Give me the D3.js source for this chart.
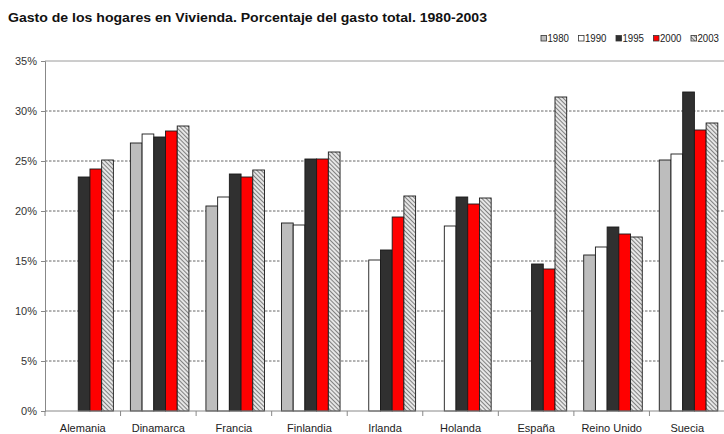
<!DOCTYPE html>
<html>
<head>
<meta charset="utf-8">
<script src="https://cdn.jsdelivr.net/npm/d3@7"></script>
<style>
  html, body { margin: 0; padding: 0; background: #fff; }
  svg { display: block; font-family: Arial, "Liberation Sans", sans-serif; }
</style>
</head>
<body>
<svg id="chart" width="724" height="434"></svg>
<script>
// Housing share of household spending, % of total spending
const countries = ["Alemania", "Dinamarca", "Francia", "Finlandia", "Irlanda", "Holanda", "España", "Reino Unido", "Suecia"];
const years = ["1980", "1990", "1995", "2000", "2003"];
const v1980 = [null, 26.8, 20.5, 18.8, null, null, null, 15.6, 25.1];
const v1990 = [null, 27.7, 21.4, 18.6, 15.1, 18.5, null, 16.4, 25.7];
const v1995 = [23.4, 27.4, 23.7, 25.2, 16.1, 21.4, 14.7, 18.4, 31.9];
const v2000 = [24.2, 28.0, 23.4, 25.2, 19.4, 20.7, 14.2, 17.7, 28.1];
const v2003 = [25.1, 28.5, 24.1, 25.9, 21.5, 21.3, 31.4, 17.4, 28.8];
const yTicks = [0, 5, 10, 15, 20, 25, 30, 35];

const seriesValues = [v1980, v1990, v1995, v2000, v2003];

const svg = d3.select("#chart");
const defs = svg.append("defs");

// diagonal hatch for the 2003 series
const hatch = defs.append("pattern")
  .attr("id", "hatch")
  .attr("patternUnits", "userSpaceOnUse")
  .attr("width", 3).attr("height", 3)
  .attr("patternTransform", "rotate(-45)");
hatch.append("rect").attr("width", 3).attr("height", 3).attr("fill", "#e6e6e6");
hatch.append("line").attr("x1", 0).attr("y1", 0).attr("x2", 0).attr("y2", 3)
  .attr("stroke", "#5e5e5e").attr("stroke-width", 1.5);

const fills = {
  "1980": "#bdbdbd",
  "1990": "#ffffff",
  "1995": "#303030",
  "2000": "#ff0000",
  "2003": "url(#hatch)"
};

const plot = { left: 45, right: 725, top: 61, bottom: 411 };

const x0 = d3.scaleBand().domain(countries).range([plot.left, plot.right]).padding(0);
const step = x0.bandwidth();
const x1 = d3.scaleBand().domain(years).range([step * 0.13, step * 0.905]).padding(0);
const y = d3.scaleLinear().domain([0, 35]).range([plot.bottom, plot.top]);

// title
svg.append("text")
  .attr("x", 8).attr("y", 22)
  .attr("font-size", 13.5).attr("font-weight", "bold").attr("fill", "#111")
  .attr("textLength", 479).attr("lengthAdjust", "spacingAndGlyphs")
  .text("Gasto de los hogares en Vivienda. Porcentaje del gasto total. 1980-2003");

// legend, one entry every 37.5px, kept inside the right edge
const legend = svg.append("g").selectAll("g").data(years).join("g")
  .attr("transform", (d, i) => `translate(${541 + i * 37.5},42)`);
legend.append("rect")
  .attr("x", 0).attr("y", -6.5).attr("width", 5.5).attr("height", 5.5)
  .attr("fill", d => fills[d]).attr("stroke", "#333").attr("stroke-width", 0.8);
legend.append("text")
  .attr("x", 6.5).attr("y", 0)
  .attr("font-size", 10.5).attr("fill", "#222")
  .attr("textLength", 21.5).attr("lengthAdjust", "spacingAndGlyphs")
  .text(d => d);

// gridlines
svg.append("g").selectAll("line")
  .data(yTicks.filter(t => t > 0 && t < 35)).join("line")
  .attr("x1", plot.left).attr("x2", plot.right)
  .attr("y1", d => y(d)).attr("y2", d => y(d))
  .attr("stroke", "#666").attr("stroke-width", 1)
  .attr("stroke-dasharray", "2.5,1.5");

// top frame line
svg.append("line")
  .attr("x1", plot.left).attr("x2", plot.right)
  .attr("y1", y(35)).attr("y2", y(35))
  .attr("stroke", "#9a9a9a");

// bars
const groups = svg.append("g").selectAll("g").data(countries).join("g")
  .attr("transform", d => `translate(${x0(d)},0)`);
groups.selectAll("rect")
  .data((c, ci) => years.map((yr, si) => ({ yr, v: seriesValues[si][ci] })).filter(d => d.v != null))
  .join("rect")
  .attr("x", d => x1(d.yr))
  .attr("width", x1.bandwidth())
  .attr("y", d => y(d.v))
  .attr("height", d => y(0) - y(d.v))
  .attr("fill", d => fills[d.yr])
  .attr("stroke", "#1a1a1a").attr("stroke-width", 0.9);

// y axis
const yAxis = d3.axisLeft(y).tickValues(yTicks).tickSize(4).tickFormat(d => d + "%");
const gy = svg.append("g").attr("transform", `translate(${plot.left},0)`).call(yAxis);
gy.select(".domain").attr("stroke", "#888");
gy.selectAll(".tick line").attr("stroke", "#888");
gy.selectAll(".tick text").attr("font-size", 11).attr("fill", "#333")
  .attr("font-family", "Arial, 'Liberation Sans', sans-serif").attr("x", -8);

// x axis: baseline, boundary ticks, centered category labels
const gx = svg.append("g");
gx.append("line")
  .attr("x1", plot.left).attr("x2", plot.right)
  .attr("y1", y(0)).attr("y2", y(0)).attr("stroke", "#888");
gx.selectAll("line.tick").data(countries).join("line")
  .attr("class", "tick")
  .attr("x1", d => x0(d)).attr("x2", d => x0(d))
  .attr("y1", y(0)).attr("y2", y(0) + 5)
  .attr("stroke", "#888");
gx.selectAll("text").data(countries).join("text")
  .attr("x", d => x0(d) + step / 2).attr("y", 432)
  .attr("text-anchor", "middle")
  .attr("font-size", 11).attr("fill", "#222")
  .text(d => d);
</script>
</body>
</html>
